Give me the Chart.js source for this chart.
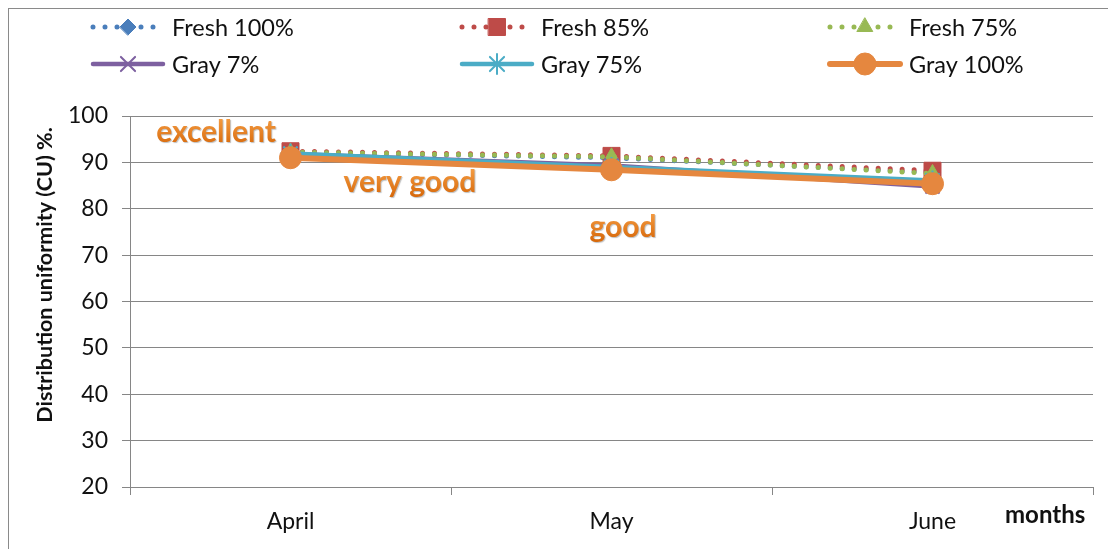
<!DOCTYPE html>
<html lang="en">
<head>
<meta charset="UTF-8">
<title>Distribution uniformity (CU)</title>
<script src="https://cdn.jsdelivr.net/npm/chart.js"></script>
<style>
    html, body { margin: 0; padding: 0; background: #fff; }
    .chart-box { position: relative; width: 1108px; height: 549px; }
</style>
</head>
<body>
<div class="chart-box"><canvas id="cuChart"></canvas></div>
<script>
    // data
    const months = ['April', 'May', 'June'];
    const fresh100 = [92.2, 91.0, 87.8];
    const fresh85 = [92.4, 91.4, 88.2];
    const fresh75 = [92.2, 91.2, 87.6];
    const gray7 = [91.8, 89.3, 84.8];
    const gray75 = [91.9, 89.0, 86.1];
    const gray100 = [91.0, 88.4, 85.4];
    const yMin = 20, yMax = 100, yStep = 10;
    const ratings = ['excellent', 'very good', 'good'];

    const FONT = 'Lato, "Open Sans", sans-serif';
    const AXIS = '#868686';

    // background + frame
    const framePlugin = {
        id: 'frame',
        beforeDraw(chart) {
            const ctx = chart.ctx;
            ctx.save();
            ctx.fillStyle = '#fff';
            ctx.fillRect(0, 0, chart.width, chart.height);
            ctx.strokeStyle = '#8a8a8a';
            ctx.lineWidth = 1;
            ctx.strokeRect(8.5, 8.5, chart.width, chart.height);
            ctx.restore();
        }
    };

    // two-row legend, three columns, like the Excel one
    const legendPlugin = {
        id: 'gridLegend',
        afterDraw(chart) {
            const ctx = chart.ctx;
            const colX = [93, 462, 830];
            const rowY = [27, 64];
            chart.data.datasets.forEach((ds, i) => {
                const x0 = colX[i % 3], y = rowY[Math.floor(i / 3)];
                ctx.save();
                ctx.strokeStyle = ds.borderColor;
                ctx.lineWidth = ds.borderWidth;
                ctx.lineCap = 'round';
                ctx.setLineDash(ds.borderDash || []);
                ctx.beginPath();
                ctx.moveTo(x0, y);
                ctx.lineTo(x0 + 70, y);
                ctx.stroke();
                ctx.setLineDash([]);
                ctx.fillStyle = ds.pointBackgroundColor;
                ctx.strokeStyle = ds.pointBorderColor;
                ctx.lineWidth = ds.pointBorderWidth;
                Chart.helpers.drawPoint(ctx, {
                    pointStyle: ds.pointStyle, radius: ds.pointRadius,
                    rotation: 0, borderWidth: ds.pointBorderWidth
                }, x0 + 35, y);
                ctx.fillStyle = '#111';
                ctx.font = '23.5px ' + FONT;
                ctx.textBaseline = 'middle';
                ctx.fillText(ds.label, x0 + 79, y + 1);
                ctx.restore();
            });
        }
    };

    // axis titles and the rating words
    const textPlugin = {
        id: 'notes',
        afterDraw(chart) {
            const ctx = chart.ctx;
            const xs = chart.scales.x, ys = chart.scales.y;
            ctx.save();
            ctx.fillStyle = '#111';
            ctx.font = 'bold 21.5px ' + FONT;
            ctx.translate(45, 275);
            ctx.rotate(-Math.PI / 2);
            ctx.textAlign = 'center';
            ctx.textBaseline = 'middle';
            ctx.fillText('Distribution uniformity (CU) %.', 0, 0);
            ctx.restore();

            ctx.save();
            ctx.fillStyle = '#111';
            ctx.font = 'bold 24px ' + FONT;
            ctx.textAlign = 'left';
            ctx.textBaseline = 'middle';
            ctx.fillText('months', 1005, 515);
            ctx.restore();

            const spots = [[-0.232, 96.5], [0.372, 85.6], [1.036, 76.1]];
            ctx.save();
            ctx.font = 'bold 30px ' + FONT;
            ctx.textAlign = 'center';
            ctx.textBaseline = 'middle';
            ctx.shadowColor = 'rgba(0,0,0,0.25)';
            ctx.shadowOffsetX = 1;
            ctx.shadowOffsetY = 1;
            ctx.shadowBlur = 1;
            ratings.forEach((word, i) => {
                const px = xs.getPixelForValue(spots[i][0]);
                const py = ys.getPixelForValue(spots[i][1]);
                const g = ctx.createLinearGradient(0, py - 13, 0, py + 13);
                g.addColorStop(0, '#F39A40');
                g.addColorStop(1, '#D86A0C');
                ctx.fillStyle = g;
                ctx.fillText(word, px, py);
            });
            ctx.restore();
        }
    };

    function series(label, data, color, style, radius, dotted, width, order) {
        return {
            label, data, order,
            borderColor: color,
            borderWidth: width,
            borderDash: dotted ? [0, 12] : [],
            borderCapStyle: 'round',
            pointStyle: style,
            pointRadius: radius,
            pointHoverRadius: radius,
            pointBackgroundColor: color,
            pointBorderColor: color,
            pointBorderWidth: (style === 'crossRot' || style === 'star') ? 2 : 1,
            tension: 0,
            fill: false
        };
    }

    const ctx = document.getElementById('cuChart').getContext('2d');
    new Chart(ctx, {
        type: 'line',
        data: {
            labels: months,
            datasets: [
                series('Fresh 100%', fresh100, '#4A7EBB', 'rectRot', 8, true, 5, 6),
                series('Fresh 85%', fresh85, '#BE4B48', 'rect', 12, true, 5, 5),
                series('Fresh 75%', fresh75, '#98B954', 'triangle', 9, true, 5, 4),
                series('Gray 7%', gray7, '#7D60A0', 'crossRot', 10, false, 4.5, 3),
                series('Gray 75%', gray75, '#4BACC6', 'star', 10, false, 4.5, 2),
                series('Gray 100%', gray100, '#E5873F', 'circle', 11, false, 6, 1)
            ]
        },
        options: {
            responsive: true,
            maintainAspectRatio: false,
            animation: false,
            layout: { padding: { top: 116, right: 15, left: 0, bottom: 0 } },
            scales: {
                x: {
                    offset: true,
                    afterFit: s => { s.height = 62; },
                    grid: { offset: true, drawOnChartArea: false, color: AXIS, tickLength: 8 },
                    border: { color: AXIS },
                    ticks: { color: '#111', font: { family: FONT, size: 23 }, padding: 13 }
                },
                y: {
                    min: yMin,
                    max: yMax,
                    afterFit: s => { s.width = 130; },
                    grid: { color: AXIS, tickLength: 8 },
                    border: { color: AXIS },
                    ticks: { stepSize: yStep, color: '#111', font: { family: FONT, size: 23 }, padding: 14 }
                }
            },
            plugins: {
                legend: { display: false },
                tooltip: { enabled: false }
            }
        },
        plugins: [framePlugin, legendPlugin, textPlugin]
    });
</script>
</body>
</html>
